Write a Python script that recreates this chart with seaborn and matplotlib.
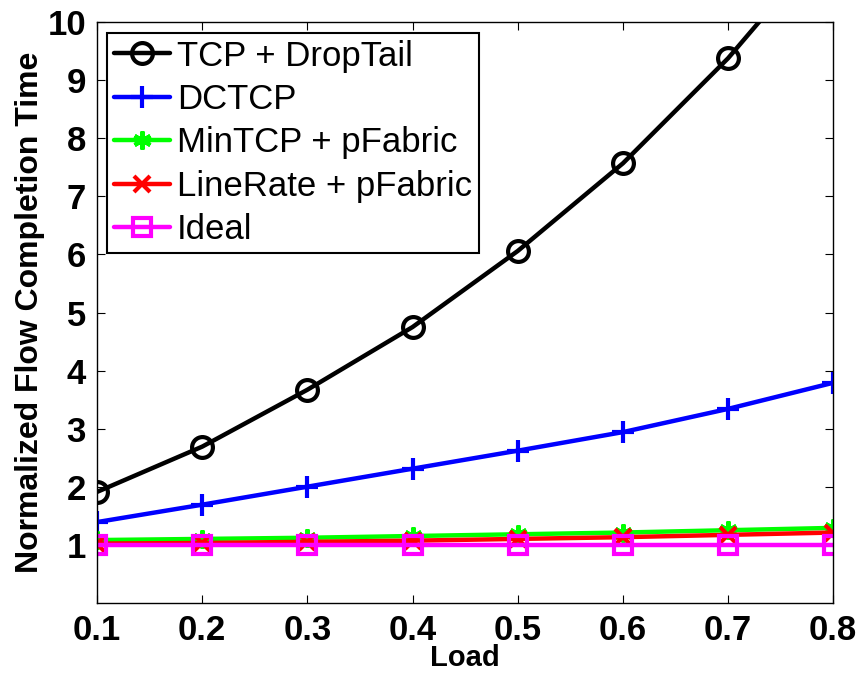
import pandas as pd
import seaborn as sns
import matplotlib.pyplot as plt

load = [0.1, 0.2, 0.3, 0.4, 0.5, 0.6, 0.7, 0.8]
tcp_droptail = [1.91, 2.69, 3.67, 4.75, 6.06, 7.57, 9.38, 11.5]
dctcp = [1.39, 1.69, 2.0, 2.31, 2.62, 2.94, 3.34, 3.79]
mintcp_pfabric = [1.08, 1.10, 1.12, 1.15, 1.18, 1.21, 1.25, 1.29]
linerate_pfabric = [1.02, 1.03, 1.05, 1.07, 1.10, 1.13, 1.17, 1.21]
ideal = [1.0, 1.0, 1.0, 1.0, 1.0, 1.0, 1.0, 1.0]
names = ['TCP + DropTail', 'DCTCP', 'MinTCP + pFabric', 'LineRate + pFabric', 'Ideal']

sns.set_style('ticks')
plt.rcParams['font.family'] = ['Liberation Sans', 'DejaVu Sans']
plt.rcParams['font.weight'] = 'bold'
plt.rcParams['text.color'] = 'black'
plt.rcParams['axes.labelcolor'] = 'black'
plt.rcParams['xtick.color'] = 'black'
plt.rcParams['ytick.color'] = 'black'

fig = plt.figure(figsize=(8.59, 6.75), dpi=100)
ax = fig.add_axes([0.113, 0.107, 0.857, 0.860])

series = [tcp_droptail, dctcp, mintcp_pfabric, linerate_pfabric, ideal]
colors = ['black', '#0000ff', '#00ff00', '#ff0000', '#ff00ff']
markers = ['o', '+', (6, 2, 0), 'x', 's']
msizes = [15, 16, 13, 12, 13]

for name, vals, c, m, ms in zip(names, series, colors, markers, msizes):
    df = pd.DataFrame({'Load': load, 'FCT': vals})
    sns.lineplot(data=df, x='Load', y='FCT', ax=ax, label=name, color=c,
                 marker=m, markersize=ms, markerfacecolor='none',
                 markeredgecolor=c, markeredgewidth=3, linewidth=3.2,
                 clip_on=True)

ax.set_xlim(0.1, 0.8)
ax.set_ylim(0, 10)
ax.set_xticks(load)
ax.set_xticklabels([f'{v:.1f}' for v in load])
ax.set_yticks(range(1, 11))
ax.tick_params(direction='in', top=True, right=True, labelsize=25, length=6, width=0.8,
               pad=8, colors='black')
for lab in ax.get_xticklabels() + ax.get_yticklabels():
    lab.set_fontweight('bold')
for sp in ax.spines.values():
    sp.set_linewidth(1.0)
    sp.set_color('black')

ax.set_xlabel('Load', fontsize=21, fontweight='bold', labelpad=-2)
ax.set_ylabel('Normalized Flow Completion Time', fontsize=23, fontweight='bold', labelpad=2)

leg = ax.legend(loc='upper left', fontsize=25, handlelength=1.6, handletextpad=0.2,
                labelspacing=0.3, borderpad=0.2, fancybox=False, framealpha=1,
                edgecolor='black', borderaxespad=0.3)
leg.get_frame().set_linewidth(1.5)
for t in leg.get_texts():
    t.set_fontweight('normal')
    t.set_color('black')

fig.savefig('out.png', dpi=100)
